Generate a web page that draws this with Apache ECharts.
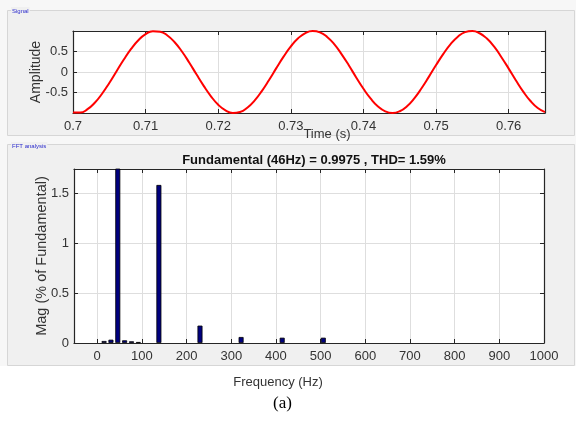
<!DOCTYPE html>
<html>
<head>
<meta charset="utf-8">
<script src="https://cdn.jsdelivr.net/npm/echarts@6/dist/echarts.min.js"></script>
<style>
  html, body { margin: 0; padding: 0; background: #ffffff; }
  #chart { width: 576px; height: 421px; }
</style>
</head>
<body>
<div id="chart"></div>
<script>
// Time-domain signal (s, per-unit amplitude)
const timeS = [
  0.700, 0.701, 0.702, 0.703, 0.704, 0.705, 0.706, 0.707, 0.708, 0.709,
  0.710, 0.711, 0.712, 0.713, 0.714, 0.715, 0.716, 0.717, 0.718, 0.719,
  0.720, 0.721, 0.722, 0.723, 0.724, 0.725, 0.726, 0.727, 0.728, 0.729,
  0.730, 0.731, 0.732, 0.733, 0.734, 0.735, 0.736, 0.737, 0.738, 0.739,
  0.740, 0.741, 0.742, 0.743, 0.744, 0.745, 0.746, 0.747, 0.748, 0.749,
  0.750, 0.751, 0.752, 0.753, 0.754, 0.755, 0.756, 0.757, 0.758, 0.759,
  0.760, 0.761, 0.762, 0.763, 0.764, 0.765
];
const amplitude = [
  -0.990, -0.990, -0.907, -0.750, -0.530, -0.267, 0.019, 0.303, 0.562, 0.775,
  0.923, 0.995, 0.983, 0.890, 0.725, 0.500, 0.233, -0.057, -0.338, -0.592,
  -0.799, -0.936, -0.998, -0.976, -0.873, -0.698, -0.465, -0.194, 0.094, 0.374,
  0.623, 0.822, 0.950, 0.999, 0.968, 0.856, 0.675, 0.431, 0.158, -0.132,
  -0.409, -0.651, -0.841, -0.960, -1.000, -0.957, -0.834, -0.642, -0.396, -0.119,
  0.169, 0.443, 0.681, 0.861, 0.972, 0.999, 0.945, 0.815, 0.618, 0.361,
  0.083, -0.206, -0.477, -0.708, -0.879, -0.979
];

// FFT spectrum: frequency bins (Hz) and magnitude (% of fundamental)
const freqHz = [15.3, 30.7, 46, 61.3, 76.7, 92, 138, 230, 322, 414, 506];
const magPct = [0.020, 0.033, 100, 0.027, 0.017, 0.010, 1.583, 0.174, 0.060, 0.053, 0.053];

// Axis ticks
const timeTicks = [0.70, 0.71, 0.72, 0.73, 0.74, 0.75, 0.76];
const freqTicks = [0, 100, 200, 300, 400, 500, 600, 700, 800, 900, 1000];
const ampTicks = [-0.5, 0, 0.5];
const magTicks = [0, 0.5, 1, 1.5];

const titleText = 'Fundamental (46Hz) = 0.9975 , THD= 1.59%';

const FONT = 'Liberation Sans, Arial, sans-serif';
const BOX = '#262626';
const GRIDC = '#dedede';
const LABELC = '#333333';
const TICK_FS = 13;

const chart = echarts.init(document.getElementById('chart'), null, { renderer: 'canvas' });

function mainX(gi, min, max, ticks, fmt, extra) {
  return Object.assign({
    type: 'value', gridIndex: gi, position: 'bottom', min: min, max: max,
    nameMoveOverlap: false,
    axisLine: { show: true, onZero: false, lineStyle: { color: BOX, width: 1.2 } },
    axisTick: { show: true, inside: true, length: 4, customValues: ticks, lineStyle: { color: BOX } },
    axisLabel: { show: true, customValues: ticks, margin: 7, color: LABELC, fontSize: TICK_FS, fontFamily: FONT, formatter: fmt },
    splitLine: { show: true, lineStyle: { color: GRIDC, width: 1 } }
  }, extra || {});
}
function mirrorX(gi, min, max, ticks) {
  return {
    type: 'value', gridIndex: gi, position: 'top', min: min, max: max,
    axisLine: { show: true, onZero: false, lineStyle: { color: BOX, width: 1.2 } },
    axisTick: { show: true, inside: true, length: 4, customValues: ticks, lineStyle: { color: BOX } },
    axisLabel: { show: false },
    splitLine: { show: false }
  };
}
function mainY(gi, min, max, ticks, fmt, extra) {
  return Object.assign({
    type: 'value', gridIndex: gi, position: 'left', min: min, max: max,
    nameMoveOverlap: false,
    axisLine: { show: true, onZero: false, lineStyle: { color: BOX, width: 1.2 } },
    axisTick: { show: true, inside: true, length: 4, customValues: ticks, lineStyle: { color: BOX } },
    axisLabel: { show: true, customValues: ticks, margin: 5, color: LABELC, fontSize: TICK_FS, fontFamily: FONT, formatter: fmt },
    splitLine: { show: true, lineStyle: { color: GRIDC, width: 1 } }
  }, extra || {});
}
function mirrorY(gi, min, max, ticks) {
  return {
    type: 'value', gridIndex: gi, position: 'right', min: min, max: max,
    axisLine: { show: true, onZero: false, lineStyle: { color: BOX, width: 1.2 } },
    axisTick: { show: true, inside: true, length: 4, customValues: ticks, lineStyle: { color: BOX } },
    axisLabel: { show: false },
    splitLine: { show: false }
  };
}

const option = {
  backgroundColor: '#ffffff',
  animation: false,
  graphic: [
    { type: 'rect', z: -10, silent: true, shape: { x: 0, y: 0, width: 576, height: 366 }, style: { fill: '#f7f7f7' } },
    { type: 'rect', z: -9, silent: true, shape: { x: 7.5, y: 10.5, width: 567, height: 125 }, style: { fill: '#f0f0f0', stroke: '#d6d6d6', lineWidth: 1 } },
    { type: 'rect', z: -9, silent: true, shape: { x: 7.5, y: 144.5, width: 567, height: 221 }, style: { fill: '#f0f0f0', stroke: '#d6d6d6', lineWidth: 1 } },
    { type: 'text', z: 10, silent: true, left: 11, top: 7, style: { text: 'Signal', fill: '#2a2acc', font: '6px ' + FONT, backgroundColor: '#f0f0f0', padding: [1, 1] } },
    { type: 'text', z: 10, silent: true, left: 11, top: 142, style: { text: 'FFT analysis', fill: '#2a2acc', font: '6px ' + FONT, backgroundColor: '#f0f0f0', padding: [1, 1] } },
    { type: 'text', z: 10, silent: true, left: 273, top: 395, style: { text: '(a)', fill: '#000000', font: '17px Liberation Serif, Times New Roman, serif' } }
  ],
  title: {
    text: titleText,
    left: 309, top: 149, textAlign: 'center',
    textStyle: { fontFamily: FONT, fontSize: 13, fontWeight: 'bold', color: '#111111' }
  },
  grid: [
    { left: 73, top: 31, width: 472, height: 82, show: true, backgroundColor: '#ffffff', borderWidth: 0, containLabel: false },
    { left: 74, top: 169, width: 470, height: 174, show: true, backgroundColor: '#ffffff', borderWidth: 0, containLabel: false }
  ],
  xAxis: [
    mainX(0, 0.7, 0.765, timeTicks, v => String(+v.toFixed(2)), {
      name: 'Time (s)', nameLocation: 'middle', nameGap: 15,
      nameTextStyle: { fontFamily: FONT, fontSize: 13, color: LABELC, padding: [0, 0, 0, 36] }
    }),
    mirrorX(0, 0.7, 0.765, timeTicks),
    mainX(1, -52, 1000, freqTicks, v => String(Math.round(v)), {
      name: 'Frequency (Hz)', nameLocation: 'middle', nameGap: 33,
      nameTextStyle: { fontFamily: FONT, fontSize: 13, color: LABELC, padding: [0, 62, 0, 0] }
    }),
    mirrorX(1, -52, 1000, freqTicks)
  ],
  yAxis: [
    mainY(0, -1, 1, ampTicks, v => String(+v.toFixed(1)), {
      name: 'Amplitude', nameLocation: 'middle', nameGap: 30,
      nameTextStyle: { fontFamily: FONT, fontSize: 14, color: LABELC }
    }),
    mirrorY(0, -1, 1, ampTicks),
    mainY(1, 0, 1.743, magTicks, v => String(+v.toFixed(1)), {
      name: 'Mag (% of Fundamental)', nameLocation: 'middle', nameGap: 25,
      nameTextStyle: { fontFamily: FONT, fontSize: 14.5, color: LABELC }
    }),
    mirrorY(1, 0, 1.743, magTicks)
  ],
  series: [
    {
      type: 'line', xAxisIndex: 0, yAxisIndex: 0, smooth: true, showSymbol: false,
      clip: true,
      data: timeS.map((t, i) => [t, amplitude[i]]),
      lineStyle: { color: '#ff0000', width: 2 }
    },
    {
      type: 'bar', xAxisIndex: 2, yAxisIndex: 2, barWidth: 5, clip: true,
      data: freqHz.map((f, i) => [f, magPct[i]]),
      itemStyle: { color: '#00007f', borderColor: '#000000', borderWidth: 0.8 }
    }
  ]
};

chart.setOption(option);
</script>
</body>
</html>
